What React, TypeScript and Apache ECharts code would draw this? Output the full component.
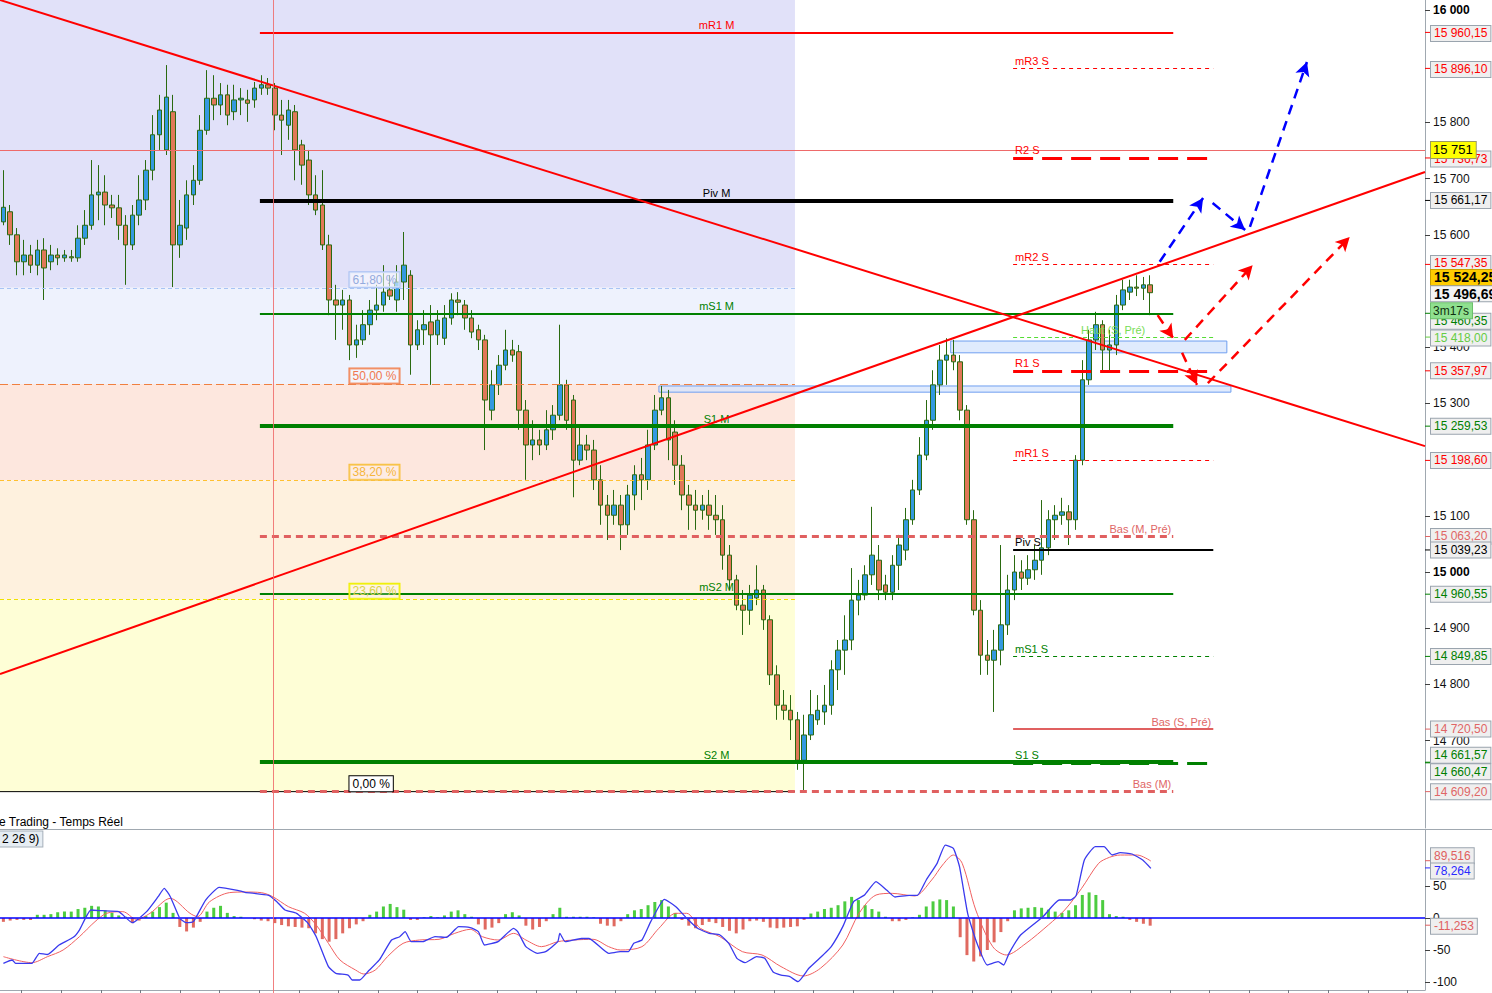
import React, { useEffect, useRef } from 'react';
import * as echarts from 'echarts';

const FONT = '"Liberation Sans", Arial, sans-serif';
const SLOTS = 210;
const Y_MIN = 14544.5;
const Y_MAX = 16017.8;
const M_MIN = -112.5;
const M_MAX = 137.5;

// candles: [open, close, low, high]
const candles: number[][] = [
  [15623, 15649, 15617, 15715], [15641, 15600, 15582, 15653], [15600, 15552, 15528, 15612], [15552, 15564, 15528, 15591],
  [15564, 15546, 15532, 15582], [15546, 15573, 15528, 15591], [15573, 15541, 15484, 15594], [15552, 15564, 15537, 15582],
  [15564, 15559, 15546, 15576], [15559, 15564, 15552, 15573], [15561, 15559, 15552, 15573], [15559, 15594, 15552, 15617],
  [15594, 15617, 15582, 15644], [15617, 15671, 15609, 15733], [15671, 15676, 15626, 15724], [15676, 15653, 15617, 15706],
  [15653, 15648, 15630, 15671], [15648, 15617, 15591, 15671], [15617, 15582, 15511, 15635], [15582, 15635, 15573, 15653],
  [15635, 15662, 15617, 15706], [15662, 15715, 15644, 15733], [15715, 15778, 15697, 15813], [15778, 15822, 15751, 15849],
  [15751, 15845, 15742, 15902], [15819, 15582, 15507, 15849], [15582, 15617, 15559, 15662], [15612, 15671, 15591, 15697],
  [15671, 15697, 15653, 15724], [15697, 15786, 15689, 15813], [15786, 15843, 15778, 15893], [15843, 15831, 15804, 15884],
  [15831, 15849, 15813, 15870], [15849, 15813, 15795, 15867], [15819, 15840, 15804, 15867], [15840, 15843, 15813, 15861],
  [15840, 15834, 15801, 15858], [15840, 15861, 15826, 15872], [15861, 15867, 15849, 15884], [15867, 15861, 15849, 15879],
  [15861, 15813, 15786, 15870], [15813, 15804, 15742, 15840], [15795, 15822, 15769, 15840], [15819, 15751, 15697, 15831],
  [15760, 15724, 15689, 15769], [15733, 15671, 15653, 15751], [15671, 15644, 15635, 15706], [15653, 15582, 15573, 15715],
  [15582, 15484, 15457, 15600], [15484, 15475, 15413, 15511], [15475, 15484, 15431, 15502], [15484, 15404, 15377, 15493],
  [15404, 15413, 15381, 15440], [15413, 15440, 15404, 15466], [15440, 15466, 15422, 15484], [15466, 15475, 15448, 15511],
  [15475, 15498, 15463, 15546], [15502, 15491, 15484, 15528], [15484, 15516, 15463, 15546], [15516, 15546, 15484, 15605],
  [15528, 15404, 15351, 15537], [15404, 15431, 15395, 15448], [15431, 15440, 15404, 15466], [15445, 15422, 15333, 15475],
  [15422, 15448, 15404, 15466], [15416, 15452, 15404, 15475], [15452, 15484, 15440, 15496], [15484, 15480, 15457, 15498],
  [15475, 15452, 15431, 15484], [15452, 15427, 15416, 15466], [15431, 15413, 15395, 15440], [15413, 15306, 15217, 15422],
  [15288, 15333, 15270, 15359], [15333, 15368, 15315, 15386], [15368, 15395, 15359, 15431], [15395, 15386, 15374, 15413],
  [15392, 15288, 15253, 15404], [15288, 15226, 15164, 15306], [15226, 15235, 15199, 15270], [15235, 15226, 15208, 15253],
  [15226, 15253, 15217, 15288], [15253, 15279, 15235, 15297], [15279, 15333, 15270, 15440], [15333, 15270, 15253, 15342],
  [15306, 15199, 15133, 15315], [15199, 15226, 15190, 15262], [15226, 15217, 15199, 15244], [15217, 15164, 15146, 15235],
  [15164, 15119, 15084, 15190], [15119, 15101, 15057, 15137], [15101, 15119, 15084, 15146], [15119, 15084, 15039, 15137],
  [15084, 15137, 15066, 15155], [15137, 15173, 15110, 15190], [15173, 15164, 15128, 15203], [15164, 15226, 15146, 15253],
  [15226, 15288, 15217, 15315], [15288, 15310, 15279, 15331], [15310, 15235, 15199, 15324], [15249, 15190, 15155, 15270],
  [15190, 15137, 15110, 15208], [15137, 15119, 15075, 15155], [15119, 15110, 15075, 15146], [15110, 15119, 15093, 15137],
  [15119, 15101, 15075, 15146], [15101, 15093, 15066, 15137], [15093, 15030, 15004, 15119], [15030, 14986, 14968, 15048],
  [14986, 14941, 14932, 14995], [14941, 14932, 14888, 14968], [14932, 14959, 14906, 14977], [14954, 14968, 14941, 15012],
  [14968, 14915, 14897, 14977], [14915, 14817, 14799, 14923], [14817, 14763, 14737, 14834], [14763, 14754, 14737, 14790],
  [14754, 14737, 14701, 14781], [14737, 14665, 14648, 14751], [14665, 14710, 14607, 14746], [14710, 14746, 14701, 14790],
  [14737, 14754, 14728, 14781], [14751, 14763, 14728, 14799], [14763, 14826, 14746, 14843], [14826, 14861, 14790, 14879],
  [14861, 14879, 14817, 14923], [14879, 14950, 14861, 15007], [14950, 14959, 14923, 14986], [14959, 14995, 14950, 15012],
  [14995, 15030, 14977, 15116], [15021, 14968, 14950, 15048], [14977, 14964, 14950, 14995], [14964, 15012, 14950, 15030],
  [15012, 15048, 14968, 15066], [15039, 15093, 15021, 15114], [15093, 15146, 15084, 15164], [15146, 15208, 15137, 15240],
  [15208, 15270, 15199, 15306], [15270, 15333, 15253, 15359], [15333, 15377, 15315, 15404], [15377, 15386, 15333, 15416],
  [15386, 15374, 15359, 15413], [15374, 15288, 15270, 15386], [15288, 15093, 15084, 15297], [15093, 14932, 14923, 15110],
  [14932, 14852, 14817, 14950], [14852, 14843, 14817, 14879], [14843, 14861, 14751, 14897], [14861, 14906, 14834, 15048],
  [14906, 14968, 14888, 14995], [14968, 15000, 14950, 15030], [15000, 14989, 14968, 15021], [14989, 15004, 14977, 15030],
  [15004, 15021, 14986, 15048], [15021, 15043, 14995, 15128], [15043, 15093, 15030, 15110], [15093, 15101, 15057, 15119],
  [15101, 15107, 15084, 15132], [15107, 15093, 15048, 15119], [15093, 15199, 15075, 15208], [15199, 15342, 15190, 15377],
  [15342, 15413, 15333, 15431], [15413, 15440, 15395, 15463], [15440, 15395, 15359, 15448], [15395, 15404, 15356, 15431],
  [15404, 15475, 15386, 15493], [15475, 15502, 15466, 15520], [15498, 15507, 15484, 15520], [15507, 15505, 15491, 15528],
  [15505, 15511, 15484, 15525], [15511, 15497, 15457, 15528],
];

// MACD (blue) and signal (red): [candle index, value]
const macdLine: number[][] = [
  [0, -70.8], [1.3, -65.6], [1.8, -70.8], [4.2, -70.8], [5.3, -55.2], [6.5, -57], [8.2, -42.2], [10.3, -30.2], [11.2, -18.8],
  [12.9, 12.5], [14.6, 11.4], [17, 9.9], [19, -7.3], [21.1, 9.9], [22.8, 33.3], [23.7, 46.4], [24.6, 33.3], [26, -0.5],
  [26.9, -7.3], [28, -5.7], [29.8, 28.1], [31.8, 47.9], [34.5, 43.2], [35.6, 40.1], [39.1, 35.4], [40.3, 25.5], [41.5, 12.5],
  [43.2, 7.3], [44.9, -8.3], [46.1, -29.2], [47.9, -76], [49, -86.5], [50.8, -89.1], [51.4, -96.9], [52.5, -96.9],
  [53.7, -83.9], [55.4, -65.6], [57.2, -34.4], [58.4, -29.2], [59.2, -21.4], [60.1, -37], [61.8, -37], [63.6, -29.2],
  [65.3, -30.2], [67.1, -13.5], [68.8, -15.1], [70, -21.4], [70.9, -42.2], [72.9, -37], [75.2, -16.1], [75.8, -21.4],
  [77, -44.8], [78.7, -55.2], [79.9, -52.6], [81.7, -37], [82, -24], [82.8, -37], [85.2, -32], [86.3, -32], [89.2, -55.2],
  [90.9, -52.6], [92.1, -52.6], [92.9, -39.6], [94.1, -34.4], [95.4, -5.7], [97.4, 29.2], [99.1, 17.7], [100.7, -0.5],
  [102.3, -16.1], [104, -24], [105.6, -26.6], [106.9, -39.6], [108.1, -63], [109.3, -69.8], [111, -60.4], [112.2, -63],
  [113.4, -83.9], [114.6, -89.1], [115.9, -91.7], [117.1, -99.5], [118.7, -78.6], [120.8, -57.8], [122, -44.8],
  [123.7, -13.5], [125.3, 25.5], [126.9, 35.9], [128.6, 56.8], [130.2, 43.2], [131.4, 32.8], [133.5, 35.4], [134.7, 35.4],
  [136, 59.4], [137.6, 85.4], [138.8, 114], [140, 108.9], [140.9, 80.2], [142.1, 7.3], [143.3, -34.4], [145, -73.4],
  [146.6, -68.2], [147.4, -73.4], [148.2, -55.2], [149.9, -26.6], [153.2, 2.1], [155.6, 28.1], [157.3, 28.1], [158.1, 35.4],
  [159.3, 90.6], [160.9, 111.5], [162.2, 111.5], [163.4, 98.4], [164.6, 102.1], [166.3, 100], [167.9, 90.6], [169.1, 77.6],
];
const signalLine: number[][] = [
  [0, -60.4], [4.2, -69.8], [6.5, -60.4], [8.8, -50], [11.2, -29.2], [13.5, -5.7], [15.2, 7.3], [17.6, 9.9], [19.6, -2.1],
  [21.6, 7.3], [24.6, 30.7], [27.5, 7.3], [28.6, 2.1], [30.4, 25.5], [33.3, 39.6], [35.6, 40.6], [38, 39.6], [39.7, 33.3],
  [42, 17.7], [44.4, 7.3], [46.1, -10.9], [47.9, -39.6], [49.6, -65.6], [51.9, -81.3], [53.1, -87.5], [54.8, -81.3],
  [56.6, -60.4], [58.9, -39.6], [61.3, -34.4], [64.2, -33.3], [66.5, -24], [68.8, -17.7], [70.6, -29.2], [72.9, -34.4],
  [75.2, -24], [77, -34.4], [79.3, -44.8], [81.7, -37], [84, -34.4], [86.9, -33.3], [89.2, -44.8], [90.9, -50], [94.1, -44.8],
  [96.6, -16.1], [99.1, 7.3], [100.7, 7.3], [102.7, -16.1], [105.6, -29.2], [108.9, -52.6], [111.8, -57.8], [114.6, -76],
  [117.9, -90.6], [120.4, -78.6], [123.7, -42.2], [126.1, 7.3], [128.6, 35.9], [131, 38.5], [134.3, 34.4], [136.8, 59.4],
  [138.4, 82.8], [140, 98.4], [141.3, 85.4], [143.3, 12.5], [145.8, -44.8], [147.8, -57.8], [150.7, -39.6], [154, -10.9],
  [156.4, 12.5], [158.9, 46.4], [161.4, 85.4], [163, 94.8], [164.6, 98.4], [167.1, 98.4], [169.1, 89],
];
const histogram: number[] = [
  -6, -4, -3, -3, -3, 5, 5, 6, 9, 10, 10, 14, 16, 19, 18, 12, 8, 4, 2, -8,
  -4, 3, 10, 17, 24, 8, -14, -21, -15, -6, 10, 16, 19, 8, 3, 2, 0, -2, -4, -5,
  -8, -11, -13, -14, -15, -16, -24, -33, -37, -33, -24, -16, -10, -5, 5, 10, 18, 22, 17, 13,
  -3, -3, 1, 3, 1, 4, 10, 12, 6, 2, -10, -18, -15, -8, 6, 9, 4, -12, -18, -14,
  -5, 6, 16, 2, 2, 2, 2, 1, -9, -12, -13, -5, 6, 12, 14, 20, 25, 28, 18, 8,
  -3, -12, -16, -11, -6, -8, -14, -20, -24, -18, -5, -4, -6, -15, -16, -15, -14, -13, -3, 7,
  10, 14, 16, 20, 26, 33, 28, 20, 14, 10, 2, -5, -5, -3, 1, 5, 18, 26, 29, 28,
  18, -30, -58, -68, -60, -50, -38, -22, -5, 12, 15, 16, 17, 16, 13, 10, 8, 12, 20, 36,
  40, 36, 28, 6, 3, 2, -3, -6, -9, -12,
];

const priceTicks = [14700, 14800, 14900, 15000, 15100, 15300, 15400, 15600, 15700, 15800, 16000];
const boldTicks = [15000, 16000];
const macdTicks = [-100, -50, 0, 50];

// Fibonacci retracement
const FIB_X0 = -0.5;
const FIB_X1 = 116.65;
const FIB_LABEL_X = 51.0;
const fibZones = [
  { from: 15505.7, to: Y_MAX, color: '#e1e1f9' },
  { from: 15334.5, to: 15505.7, color: '#eef2fd' },
  { from: 15163.3, to: 15334.5, color: '#fde7de' },
  { from: 14951.5, to: 15163.3, color: '#fef1de' },
  { from: 14609.2, to: 14951.5, color: '#fefed6' },
];
const fibLevels = [
  { text: '61,80 %', value: 15505.7, line: '#a8c4f4', dash: [4, 3], fill: '#94abde', border: '#a9c1f3', bg: 'rgba(255,255,255,0.55)' },
  { text: '50,00 %', value: 15334.5, line: '#f08040', dash: [8, 4], fill: '#f0784f', border: '#f08050', bg: 'rgba(255,255,255,0.25)' },
  { text: '38,20 %', value: 15163.3, line: '#ffc030', dash: [4, 3], fill: '#f5b63c', border: '#f8c040', bg: 'rgba(255,255,255,0.2)' },
  { text: '23,60 %', value: 14951.5, line: '#f0e000', dash: [4, 3], fill: '#d9d24a', border: '#f0f000', bg: 'rgba(255,255,255,0.2)' },
  { text: '0,00 %', value: 14609.2, line: '#000000', dash: 'solid', fill: '#000000', border: '#000000', bg: '#ffffff' },
];

// Pivot levels
const M_X0 = 37.8;
const M_X1 = 172.4;
const S_X0 = 148.8;
const S_X1 = 178.3;
const RED = '#ff0000';
const GREEN = '#008000';
const PINK = '#e06060';
const monthLevels = [
  { name: 'mR1 M', value: 15960.15, color: RED, width: 2, type: 'solid', pos: 'insideMiddleTop', label: RED },
  { name: 'Piv M', value: 15661.17, color: '#000000', width: 4, type: 'solid', pos: 'insideMiddleTop', label: '#000000' },
  { name: 'mS1 M', value: 15460.35, color: GREEN, width: 2, type: 'solid', pos: 'insideMiddleTop', label: GREEN },
  { name: 'S1 M', value: 15259.53, color: GREEN, width: 4, type: 'solid', pos: 'insideMiddleTop', label: GREEN },
  { name: 'Bas (M, Pré)', value: 15063.2, color: PINK, width: 3, type: [7, 5], pos: 'insideEndTop', label: '#e06666' },
  { name: 'mS2 M', value: 14960.55, color: GREEN, width: 2, type: 'solid', pos: 'insideMiddleTop', label: GREEN },
  { name: 'S2 M', value: 14661.57, color: GREEN, width: 4, type: 'solid', pos: 'insideMiddleTop', label: GREEN },
  { name: 'Bas (M)', value: 14609.2, color: PINK, width: 3, type: [7, 5], pos: 'insideEndTop', label: '#e06666' },
];
const weekLevels = [
  { name: 'mR3 S', value: 15896.1, color: RED, width: 1, type: [4, 4], pos: 'insideStartTop', label: RED },
  { name: 'R2 S', value: 15736.73, color: RED, width: 3, type: [20, 9], pos: 'insideStartTop', label: RED },
  { name: 'mR2 S', value: 15547.35, color: RED, width: 1, type: [4, 4], pos: 'insideStartTop', label: RED },
  { name: 'Haut (S, Pré)', value: 15418.0, color: '#55dd33', width: 1, type: [4, 3], pos: 'insideMiddleTop', label: '#77dd55' },
  { name: 'R1 S', value: 15357.97, color: RED, width: 3, type: [20, 9], pos: 'insideStartTop', label: RED },
  { name: 'mR1 S', value: 15198.6, color: RED, width: 1, type: [4, 4], pos: 'insideStartTop', label: RED },
  { name: 'Piv S', value: 15039.23, color: '#000000', width: 2, type: 'solid', pos: 'insideStartTop', label: '#000000' },
  { name: 'mS1 S', value: 14849.85, color: GREEN, width: 1, type: [4, 4], pos: 'insideStartTop', label: GREEN },
  { name: 'Bas (S, Pré)', value: 14720.5, color: PINK, width: 2, type: 'solid', pos: 'insideEndTop', label: '#e06666' },
  { name: 'S1 S', value: 14660.47, color: GREEN, width: 3, type: [20, 9], pos: 'insideStartTop', label: GREEN },
];

// zones (blue boxes)
const boxes = [
  { x0: 139.6, x1: 180.3, low: 15390, high: 15411 },
  { x0: 96.6, x1: 180.9, low: 15320, high: 15331 },
];

// trend lines
const trendDown = [[-0.5, 16017.8], [209.5, 15224]];
const trendUp = [[-0.5, 14818.5], [209.5, 15711.7]];

// projection arrows
const blueArrows = [
  [[170.4, 15552], [176.8, 15665.5]],
  [[178.2, 15656.6], [183.0, 15608.5]],
  [[183.7, 15614], [192.1, 15907.5]],
];
const redArrows = [
  [[170.1, 15457], [172.4, 15416]],
  [[174.1, 15413], [184.1, 15546]],
  [[173.7, 15390], [175.9, 15333]],
  [[177.5, 15336], [198.4, 15596]],
];

// crosshair
const CROSS_IDX = 39.7;
const CROSS_PRICE = 15751;
const CROSS_COLOR = '#ee6a6a';

// right-hand price tags
const rightTags = [
  { value: 15960.15, text: '15 960,15', color: '#ff0000', dy: 1 },
  { value: 15896.1, text: '15 896,10', color: '#ff0000', dy: 1 },
  { value: 15736.73, text: '15 736,73', color: '#ff0000', dy: 1 },
  { value: 15661.17, text: '15 661,17', color: '#000000', dy: 0 },
  { value: 15547.35, text: '15 547,35', color: '#ff0000', dy: -1 },
  { value: 15460.35, text: '15 460,35', color: '#008000', dy: 8 },
  { value: 15418.0, text: '15 418,00', color: '#66cc44', dy: 1 },
  { value: 15357.97, text: '15 357,97', color: '#ff0000', dy: 0 },
  { value: 15259.53, text: '15 259,53', color: '#008000', dy: 0 },
  { value: 15198.6, text: '15 198,60', color: '#ff0000', dy: 0 },
  { value: 15063.2, text: '15 063,20', color: '#e06666', dy: 0 },
  { value: 15039.23, text: '15 039,23', color: '#000000', dy: 0 },
  { value: 14960.55, text: '14 960,55', color: '#008000', dy: 0 },
  { value: 14849.85, text: '14 849,85', color: '#008000', dy: 0 },
  { value: 14720.5, text: '14 720,50', color: '#e06666', dy: 0 },
  { value: 14661.57, text: '14 661,57', color: '#008000', dy: -7 },
  { value: 14660.47, text: '14 660,47', color: '#008000', dy: 9 },
  { value: 14609.2, text: '14 609,20', color: '#e06666', dy: 0 },
];
const LAST_HIGH = 15524.25;
const LAST_PRICE = 15496.69;
const macdTags = [
  { value: 89.516, text: '89,516', color: '#e06060', dy: -5 },
  { value: 78.264, text: '78,264', color: '#2a2aff', dy: 3 },
  { value: -11.253, text: '-11,253', color: '#e06060', dy: 1 },
];

const timeTicks = Array.from({ length: 36 }, (_, k) => 2.7 + k * 5.835).filter((v) => v < SLOTS - 0.5);
const cats = Array.from({ length: SLOTS }, (_, i) => String(i));

const fmt = (v: number) => String(v).replace(/\B(?=(\d{3})+(?!\d))/g, ' ');

function levelItem(l: any, x0: number, x1: number) {
  return [
    {
      coord: [x0, l.value],
      lineStyle: { color: l.color, width: l.width, type: l.type },
      label: {
        show: true,
        formatter: l.name,
        position: l.pos,
        color: l.label,
        fontSize: 11,
        fontFamily: FONT,
        distance: 2,
      },
    },
    { coord: [x1, l.value] },
  ];
}

const noZero = { onZero: false };

function buildOption(): any {
  const markAreaData: any[] = fibZones.map((z) => [
    { coord: [FIB_X0, z.from], itemStyle: { color: z.color } },
    { coord: [FIB_X1, z.to] },
  ]);
  boxes.forEach((b) =>
    markAreaData.push([
      { coord: [b.x0, b.low], itemStyle: { color: 'rgba(214,228,252,0.75)', borderColor: '#6f9ff0', borderWidth: 1 } },
      { coord: [b.x1, b.high] },
    ])
  );
  const fibLines: any[] = fibLevels
    .filter((f) => f.dash !== 'solid')
    .map((f) => [
      { coord: [FIB_X0, f.value], lineStyle: { color: f.line, width: 1, type: f.dash } },
      { coord: [FIB_X1, f.value] },
    ]);

  const levelLines: any[] = [
    ...monthLevels.map((l) => levelItem(l, M_X0, M_X1)),
    ...weekLevels.map((l) => levelItem(l, S_X0, S_X1)),
  ];

  const arrowSeries = (arrows: number[][][], color: string) => ({
    type: 'line',
    xAxisIndex: 1,
    yAxisIndex: 0,
    z: 6,
    silent: true,
    color,
    data: [arrows[0][0]],
    symbol: 'none',
    lineStyle: { opacity: 0 },
    markLine: {
      silent: true,
      symbol: ['none', 'arrow'],
      symbolSize: [11, 14],
      label: { show: false },
      lineStyle: { color, width: 2.5, type: [10, 7] },
      itemStyle: { color },
      data: arrows.map((a) => [{ coord: a[0] }, { coord: a[1] }]),
    },
  });

  return {
    animation: false,
    backgroundColor: '#ffffff',
    textStyle: { fontFamily: FONT },
    grid: [
      { left: 0, top: 0, width: 1425, height: 828 },
      { left: 0, top: 830, width: 1425, height: 160 },
    ],
    xAxis: [
      { type: 'category', gridIndex: 0, data: cats, show: false, boundaryGap: true, axisLine: noZero },
      { type: 'value', gridIndex: 0, min: -0.5, max: SLOTS - 0.5, show: false, axisLine: noZero },
      { type: 'category', gridIndex: 1, data: cats, show: false, boundaryGap: true, axisLine: noZero },
      {
        type: 'value',
        gridIndex: 1,
        min: -0.5,
        max: SLOTS - 0.5,
        position: 'bottom',
        axisLine: { show: true, onZero: false, lineStyle: { color: '#a0a8b0' } },
        axisTick: { show: true, customValues: timeTicks, length: 3, lineStyle: { color: '#707880' } },
        axisLabel: { show: false },
        splitLine: { show: false },
      },
    ],
    yAxis: [
      {
        type: 'value',
        gridIndex: 0,
        position: 'right',
        min: Y_MIN,
        max: Y_MAX,
        axisLine: { show: true, onZero: false, lineStyle: { color: '#a0a8b0' } },
        axisTick: { show: true, customValues: priceTicks, length: 5, lineStyle: { color: '#404040' } },
        axisLabel: {
          customValues: priceTicks,
          margin: 8,
          color: '#111111',
          fontSize: 12,
          fontFamily: FONT,
          formatter: (v: number) => (boldTicks.includes(v) ? `{b|${fmt(v)}}` : fmt(v)),
          rich: { b: { fontWeight: 'bold', fontSize: 12, fontFamily: FONT, color: '#000' } },
        },
        splitLine: { show: false },
      },
      {
        type: 'value',
        gridIndex: 1,
        position: 'right',
        min: M_MIN,
        max: M_MAX,
        axisLine: { show: true, onZero: false, lineStyle: { color: '#a0a8b0' } },
        axisTick: { show: true, customValues: macdTicks, length: 5, lineStyle: { color: '#404040' } },
        axisLabel: { customValues: macdTicks, margin: 8, color: '#111111', fontSize: 12, fontFamily: FONT },
        splitLine: { show: false },
      },
    ],
    series: [
      {
        type: 'line',
        name: 'fib',
        xAxisIndex: 1,
        yAxisIndex: 0,
        z: 1,
        silent: true,
        data: [[FIB_X0, 14609.2], [FIB_X1, 14609.2]],
        symbol: 'none',
        lineStyle: { color: '#000000', width: 1 },
        markArea: { silent: true, data: markAreaData },
        markLine: { silent: true, symbol: ['none', 'none'], label: { show: false }, data: fibLines },
      },
      {
        type: 'line',
        name: 'crosshair',
        xAxisIndex: 1,
        yAxisIndex: 0,
        z: 2,
        silent: true,
        color: CROSS_COLOR,
        data: [[CROSS_IDX, CROSS_PRICE]],
        symbol: 'none',
        lineStyle: { opacity: 0 },
        markLine: {
          silent: true,
          symbol: ['none', 'none'],
          label: { show: false },
          lineStyle: { color: CROSS_COLOR, width: 1, type: 'solid', opacity: 1 },
          data: [{ yAxis: CROSS_PRICE }],
        },
      },
      {
        type: 'candlestick',
        xAxisIndex: 0,
        yAxisIndex: 0,
        z: 3,
        barWidth: 5,
        data: candles,
        itemStyle: {
          color: '#3399e0',
          color0: '#e07858',
          borderColor: '#2a6a10',
          borderColor0: '#2a6a10',
          borderWidth: 1,
        },
      },
      {
        type: 'line',
        name: 'levels',
        xAxisIndex: 1,
        yAxisIndex: 0,
        z: 4,
        silent: true,
        data: [[M_X0, monthLevels[0].value]],
        symbol: 'none',
        lineStyle: { opacity: 0 },
        markLine: { silent: true, symbol: ['none', 'none'], label: { show: false }, data: levelLines },
      },
      {
        type: 'line',
        xAxisIndex: 1,
        yAxisIndex: 0,
        z: 5,
        silent: true,
        data: trendDown,
        symbol: 'none',
        lineStyle: { color: '#ff0000', width: 2 },
      },
      {
        type: 'line',
        xAxisIndex: 1,
        yAxisIndex: 0,
        z: 5,
        silent: true,
        data: trendUp,
        symbol: 'none',
        lineStyle: { color: '#ff0000', width: 2 },
      },
      arrowSeries(blueArrows, '#0000ff'),
      arrowSeries(redArrows, '#ff0000'),
      {
        type: 'bar',
        xAxisIndex: 2,
        yAxisIndex: 1,
        z: 2,
        silent: true,
        barWidth: 3,
        data: histogram.map((v) => ({ value: v, itemStyle: { color: v >= 0 ? '#4ccc40' : '#e06a60' } })),
        markLine: {
          silent: true,
          symbol: ['none', 'none'],
          label: { show: false },
          lineStyle: { color: '#0000ff', width: 1.5, type: 'solid' },
          data: [{ yAxis: 0 }],
        },
      },
      {
        type: 'line',
        xAxisIndex: 3,
        yAxisIndex: 1,
        z: 4,
        silent: true,
        data: signalLine,
        symbol: 'none',
        smooth: 0.3,
        lineStyle: { color: '#f06060', width: 1 },
      },
      {
        type: 'line',
        xAxisIndex: 3,
        yAxisIndex: 1,
        z: 5,
        silent: true,
        data: macdLine,
        symbol: 'none',
        smooth: 0.15,
        lineStyle: { color: '#3a3aee', width: 1.3 },
      },
    ],
  };
}

function tagText(x: number, y: number, text: string, fill: string, opts: any = {}) {
  return {
    type: 'text',
    z: opts.z ?? 100,
    x,
    y,
    style: {
      text,
      fill,
      font: opts.font ?? `12px ${FONT}`,
      backgroundColor: opts.bg ?? '#efefef',
      borderColor: opts.border ?? '#9aa4ae',
      borderWidth: 1,
      padding: opts.padding ?? [2, 3, 1, 3],
      verticalAlign: 'middle',
      align: 'left',
    },
  };
}

function buildGraphics(chart: any): any[] {
  const py = (v: number) => chart.convertToPixel({ yAxisIndex: 0 }, v) as number;
  const pm = (v: number) => chart.convertToPixel({ yAxisIndex: 1 }, v) as number;
  const px = (v: number) => chart.convertToPixel({ xAxisIndex: 1 }, v) as number;
  const els: any[] = [];

  // vertical crosshair through both panels
  const cx = Math.round(px(CROSS_IDX)) + 0.5;
  els.push({
    type: 'line',
    z: 50,
    silent: true,
    shape: { x1: cx, y1: 0, x2: cx, y2: 993 },
    style: { stroke: CROSS_COLOR, lineWidth: 1, opacity: 0.85 },
  });

  els.push({
    type: 'line',
    z: 90,
    shape: { x1: 0, y1: 829.5, x2: 1492, y2: 829.5 },
    style: { stroke: '#a0a8b0', lineWidth: 1 },
  });
  els.push({
    type: 'text',
    z: 100,
    x: -1,
    y: 822,
    style: { text: 'e Trading - Temps Réel', fill: '#000', font: `12px ${FONT}`, verticalAlign: 'middle' },
  });
  els.push(tagText(0, 839, '2 26 9)', '#000', { bg: '#e6edf3', border: '#a6b0ba', padding: [2, 3, 1, 2] }));

  // fib labels
  const lx = px(FIB_LABEL_X);
  fibLevels.forEach((f) => {
    els.push(tagText(lx, py(f.value) - 8, f.text, f.fill, { bg: f.bg, border: f.border, padding: [2, 3, 1, 3] }));
  });

  // right tags
  rightTags.forEach((t) => {
    const y = py(t.value);
    els.push({ type: 'line', z: 95, shape: { x1: 1425, y1: y, x2: 1430, y2: y }, style: { stroke: t.color, lineWidth: 1 } });
    els.push(tagText(1431, y + t.dy, t.text, t.color));
  });
  const yHigh = py(LAST_HIGH);
  const yLast = py(LAST_PRICE);
  els.push(tagText(1431, yHigh, '15 524,25', '#000', { bg: '#ffcc00', border: '#c8a000', font: `bold 14px ${FONT}`, padding: [1, 3, 0, 3], z: 110 }));
  els.push(tagText(1431, yLast + 1, '15 496,69', '#000', { bg: '#f4f4f4', border: '#9aa4ae', font: `bold 14px ${FONT}`, padding: [1, 3, 0, 3], z: 111 }));
  els.push(tagText(1431, yLast + 18, '3m17s', '#103010', { bg: '#8fe08f', border: '#6cbf6c', padding: [2, 3, 1, 2], z: 112 }));
  const yCross = py(CROSS_PRICE);
  els.push(tagText(1431, yCross, '15 751', '#000', { bg: '#ffff00', border: '#9a9a60', font: `13px ${FONT}`, padding: [2, 3, 1, 2], z: 113 }));

  // MACD tags
  macdTags.forEach((t) => {
    const y = pm(t.value);
    els.push({ type: 'line', z: 95, shape: { x1: 1425, y1: y, x2: 1430, y2: y }, style: { stroke: t.color, lineWidth: 1 } });
    els.push(tagText(1431, y + t.dy, t.text, t.color, { z: 105 }));
  });
  return els;
}

export default function App() {
  const ref = useRef<HTMLDivElement>(null);
  useEffect(() => {
    document.body.style.margin = '0';
    const chart = echarts.init(ref.current as HTMLDivElement, null, { renderer: 'svg' });
    chart.setOption(buildOption());
    chart.setOption({ graphic: buildGraphics(chart) });
    return () => chart.dispose();
  }, []);
  return <div ref={ref} style={{ width: 1492, height: 993, background: '#ffffff' }} />;
}
